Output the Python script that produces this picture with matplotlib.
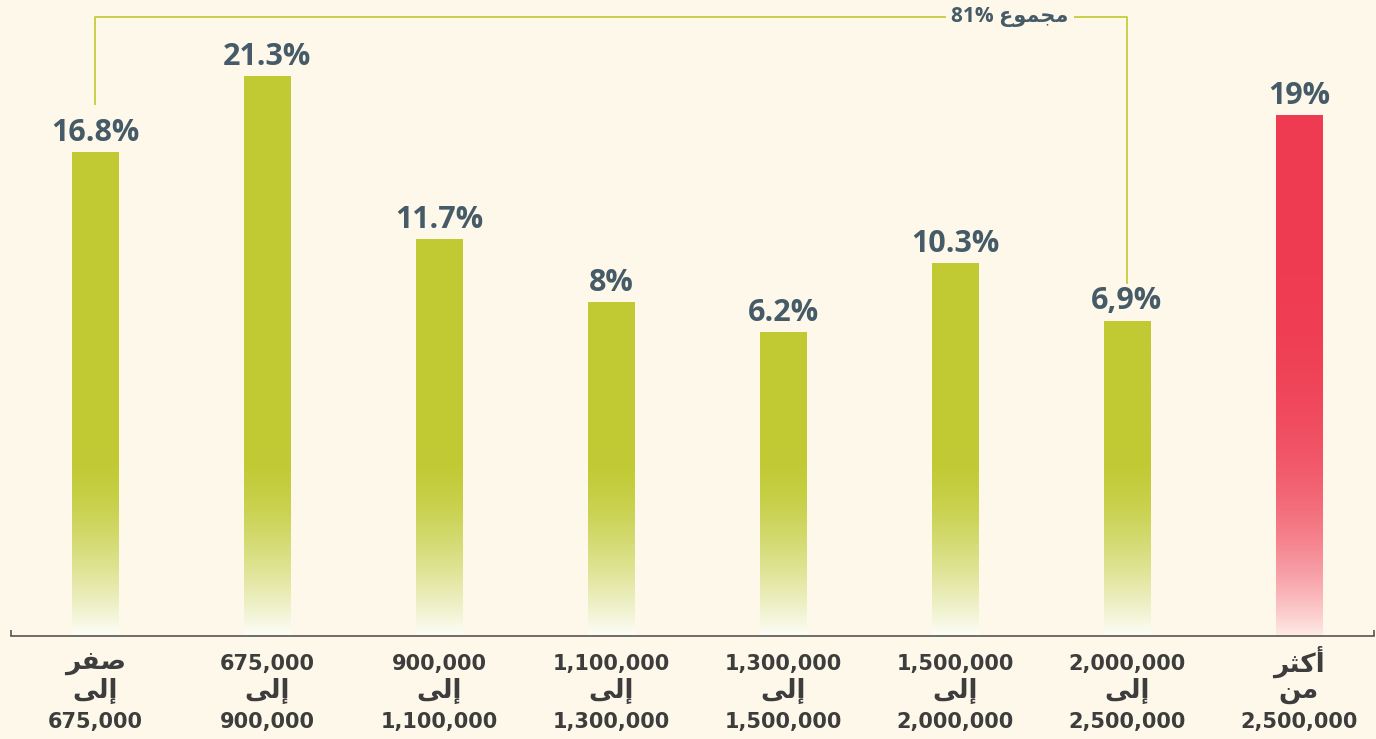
import numpy as np
import matplotlib
matplotlib.use("Agg")
from matplotlib import pyplot as plt
from matplotlib.colors import to_rgb

categories = ["صفر\nإلى\n675,000", "675,000\nإلى\n900,000", "900,000\nإلى\n1,100,000",
              "1,100,000\nإلى\n1,300,000", "1,300,000\nإلى\n1,500,000", "1,500,000\nإلى\n2,000,000",
              "2,000,000\nإلى\n2,500,000", "أكثر\nمن\n2,500,000"]
values = [16.8, 21.3, 11.7, 8, 6.2, 10.3, 6.9, 19]
value_labels = ["16.8%", "21.3%", "11.7%", "8%", "6.2%", "10.3%", "6,9%", "19%"]
total_word = "مجموع"
total_value = "81%"

BG = "#FEF8EA"
GREEN = "#C1CA33"
RED = "#EF3B51"
LABEL_C = "#465B68"
TICK_C = "#3D3D3D"
FONTS = ["Open Sans", "DejaVu Sans"]

# matplotlib does no arabic shaping -> map letters to presentation forms, visual order
FORMS = {
    'ص': ('\uFEB9', '\uFEBA', '\uFEBB', '\uFEBC'),
    'ف': ('\uFED1', '\uFED2', '\uFED3', '\uFED4'),
    'ر': ('\uFEAD', '\uFEAE', None, None),
    'إ': ('\uFE87', '\uFE88', None, None),
    'أ': ('\uFE83', '\uFE84', None, None),
    'ل': ('\uFEDD', '\uFEDE', '\uFEDF', '\uFEE0'),
    'ى': ('\uFEEF', '\uFEF0', None, None),
    'ك': ('\uFED9', '\uFEDA', '\uFEDB', '\uFEDC'),
    'ث': ('\uFE99', '\uFE9A', '\uFE9B', '\uFE9C'),
    'م': ('\uFEE1', '\uFEE2', '\uFEE3', '\uFEE4'),
    'ن': ('\uFEE5', '\uFEE6', '\uFEE7', '\uFEE8'),
    'ج': ('\uFE9D', '\uFE9E', '\uFE9F', '\uFEA0'),
    'و': ('\uFEED', '\uFEEE', None, None),
    'ع': ('\uFEC9', '\uFECA', '\uFECB', '\uFECC'),
}


def is_arabic(line):
    return any(c in FORMS for c in line)


def shape(line):
    if not is_arabic(line):
        return line
    out = []
    for i, ch in enumerate(line):
        f = FORMS.get(ch)
        if f is None:
            out.append(ch)
            continue
        prev = line[i - 1] if i > 0 else ''
        nxt = line[i + 1] if i + 1 < len(line) else ''
        jp = prev in FORMS and FORMS[prev][2] is not None
        jn = nxt in FORMS and f[2] is not None
        if jp and jn:
            out.append(f[3])
        elif jp:
            out.append(f[1])
        elif jn:
            out.append(f[2])
        else:
            out.append(f[0])
    return ''.join(reversed(out))


BASE = -11.68
TOP = 25.78

fig = plt.figure(figsize=(13.76, 7.39), dpi=100, facecolor=BG)
ax = fig.add_axes([11 / 1376, 103 / 739, 1363 / 1376, 636 / 739])
ax.set_facecolor(BG)
ax.set_xlim(-0.4895, 7.4365)
ax.set_ylim(BASE, TOP)

x = np.arange(len(values))
colors = [GREEN] * 7 + [RED]
bars = ax.bar(x, [v - BASE for v in values], bottom=BASE, width=0.268,
              color="none", edgecolor="none")

# gradient fill of each bar
for i, b in enumerate(bars):
    x0, y0 = b.get_x(), b.get_y()
    w, h = b.get_width(), b.get_height()
    ys = np.linspace(y0, y0 + h, 300)
    c = np.array(to_rgb(colors[i]))
    if i < 7:
        t = np.clip(1 - (ys - BASE) / 10.5, 0, 1) ** 1.5 * 0.96
        end = np.array([1, 1, 1])
    else:
        t = np.clip(1 - (ys - BASE) / h, 0, 1) ** 4.4 * 0.95
        end = np.array(to_rgb("#FFF4EE"))
    img = c[None, :] * (1 - t[:, None]) + end[None, :] * t[:, None]
    img = img[:, None, :]
    im = ax.imshow(img, extent=[x0, x0 + w, y0, y0 + h], origin="lower",
                   aspect="auto", interpolation="bilinear", zorder=2)
    im.set_clip_path(b)

for xi, v, lab in zip(x, values, value_labels):
    ax.annotate(lab, (xi, v), xytext=(0, 8), textcoords="offset points",
                ha="center", va="baseline", fontsize=22, fontweight="bold",
                color=LABEL_C, family=FONTS)

# bracket over the first seven bars
y_top = 24.78
ax.plot([x[0], x[0], x[6], x[6]], [values[0] + 2.85, y_top, y_top, values[6] + 2.2],
        color="#C5CC3A", lw=1.3, zorder=1)
ax.text(5.32, y_top, total_value + " " + shape(total_word), ha="center", va="center",
        fontsize=15, fontweight="bold", color=LABEL_C, family=FONTS,
        bbox=dict(facecolor=BG, edgecolor="none", pad=4), zorder=3)

for s in ["top", "left", "right"]:
    ax.spines[s].set_visible(False)
ax.spines["bottom"].set_color("#555555")
ax.spines["bottom"].set_linewidth(1.2)
ax.vlines([0, 1], 0, 0.009, transform=ax.transAxes, color="#555555", lw=1.2, clip_on=False)

ax.set_yticks([])
ax.set_xticks(x)
ax.set_xticklabels([])
ax.tick_params(axis="x", length=0)

# category labels, one line at a time (arabic words drawn a bit larger)
line_offsets = [-20, -41, -62]
for xi, cat in zip(x, categories):
    for k, line in enumerate(cat.split("\n")):
        ar = is_arabic(line)
        ax.annotate(shape(line), (xi, 0), xycoords=ax.get_xaxis_transform(),
                    xytext=(0, line_offsets[k] + (1.5 if ar else 0)), textcoords="offset points",
                    ha="center", va="center", fontsize=19 if ar else 15,
                    fontweight="bold", color=TICK_C, family="DejaVu Sans")

fig.savefig("out.png", dpi=100, facecolor=BG)
